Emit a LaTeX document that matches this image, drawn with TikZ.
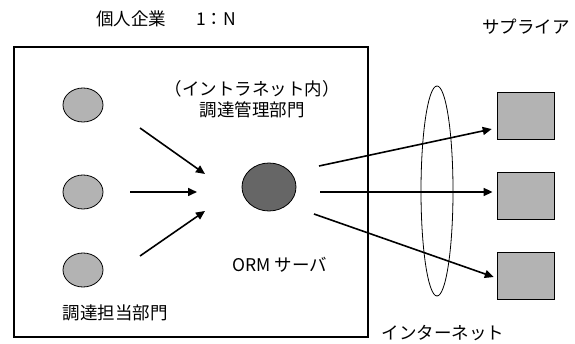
\documentclass[tikz,border=0pt]{standalone}
\usepackage{fontspec}
\setmainfont{Noto Sans CJK JP}
\usepackage{tikz}
\usetikzlibrary{arrows.meta,positioning,shapes.geometric}
\definecolor{ordFill}{HTML}{B3B3B3}
\definecolor{ordDark}{HTML}{666666}
\definecolor{ordInk}{HTML}{000000}
\tikzset{
  ord diagram/.style={font=\fontsize{17.5}{21}\selectfont, text=ordInk,
    line join=miter},
  ord dept/.style={ellipse, draw=ordInk, fill=ordFill, line width=0.8pt,
    minimum width=40pt, minimum height=34pt, inner sep=0pt},
  ord server/.style={ord dept, fill=ordDark, minimum width=54pt,
    minimum height=48pt},
  ord supplier/.style={rectangle, draw=ordInk, fill=ordFill, line width=0.8pt,
    minimum width=57pt, minimum height=47pt, inner sep=0pt},
  ord arrow/.style={-{Triangle[length=9pt,width=8pt]}, draw=ordInk,
    line width=1.6pt},
  ord frame/.style={draw=ordInk, line width=2pt},
  ord label/.style={align=center, inner sep=0pt}
}
\begin{document}
\begin{tikzpicture}[ord diagram,x=1pt,y=-1pt]
\useasboundingbox (0,0) rectangle (575,344);
\draw[ord frame] (14,47) rectangle (368,337);
\node[ord label] (title) at (166,19) {個人企業\hspace{30pt}1：N};
\node[ord label] (suplab) at (526,27) {サプライア};
% departments inside the intranet
\node[ord dept] (d1) at (83,105) {};
\node[ord dept] (d2) at (83,192) {};
\node[ord dept] (d3) at (83,270) {};
\node[ord server] (orm) at (269,187) {};
\node[ord label] (mgmt) at (252,99) {（イントラネット内）\\[0pt]調達管理部門};
\node[ord label] (ormlab) at (280,265) {ORM サーバ};
\node[ord label] (deptlab) at (115,313) {調達担当部門};
% internet ring
\draw[line width=0.8pt] (437,191) ellipse (16 and 105);
\node[ord label] (net) at (443,333) {インターネット};
% suppliers
\node[ord supplier] (s1) at (525.5,115.5) {};
\node[ord supplier] (s2) at (525.5,195.5) {};
\node[ord supplier] (s3) at (525.5,275.5) {};
% free ends of the connectors
\coordinate (in1) at (140,128);
\coordinate (in2) at (130,192);
\coordinate (in3) at (140,256);
\coordinate (hub1) at (205,174);
\coordinate (hub2) at (197,192);
\coordinate (hub3) at (205,211);
\coordinate (out1) at (319,166);
\coordinate (out2) at (320,192);
\coordinate (out3) at (314,214);
\draw[ord arrow] (in1) -- (hub1);
\draw[ord arrow] (in2) -- (hub2);
\draw[ord arrow] (in3) -- (hub3);
\draw[ord arrow,shorten >=5pt] (out1) -- (s1.west |- 0,128);
\draw[ord arrow,shorten >=4pt] (out2) -- (s2.west |- out2);
\draw[ord arrow,shorten >=3pt] (out3) -- (s3.west |- 0,278);
\end{tikzpicture}
\end{document}
